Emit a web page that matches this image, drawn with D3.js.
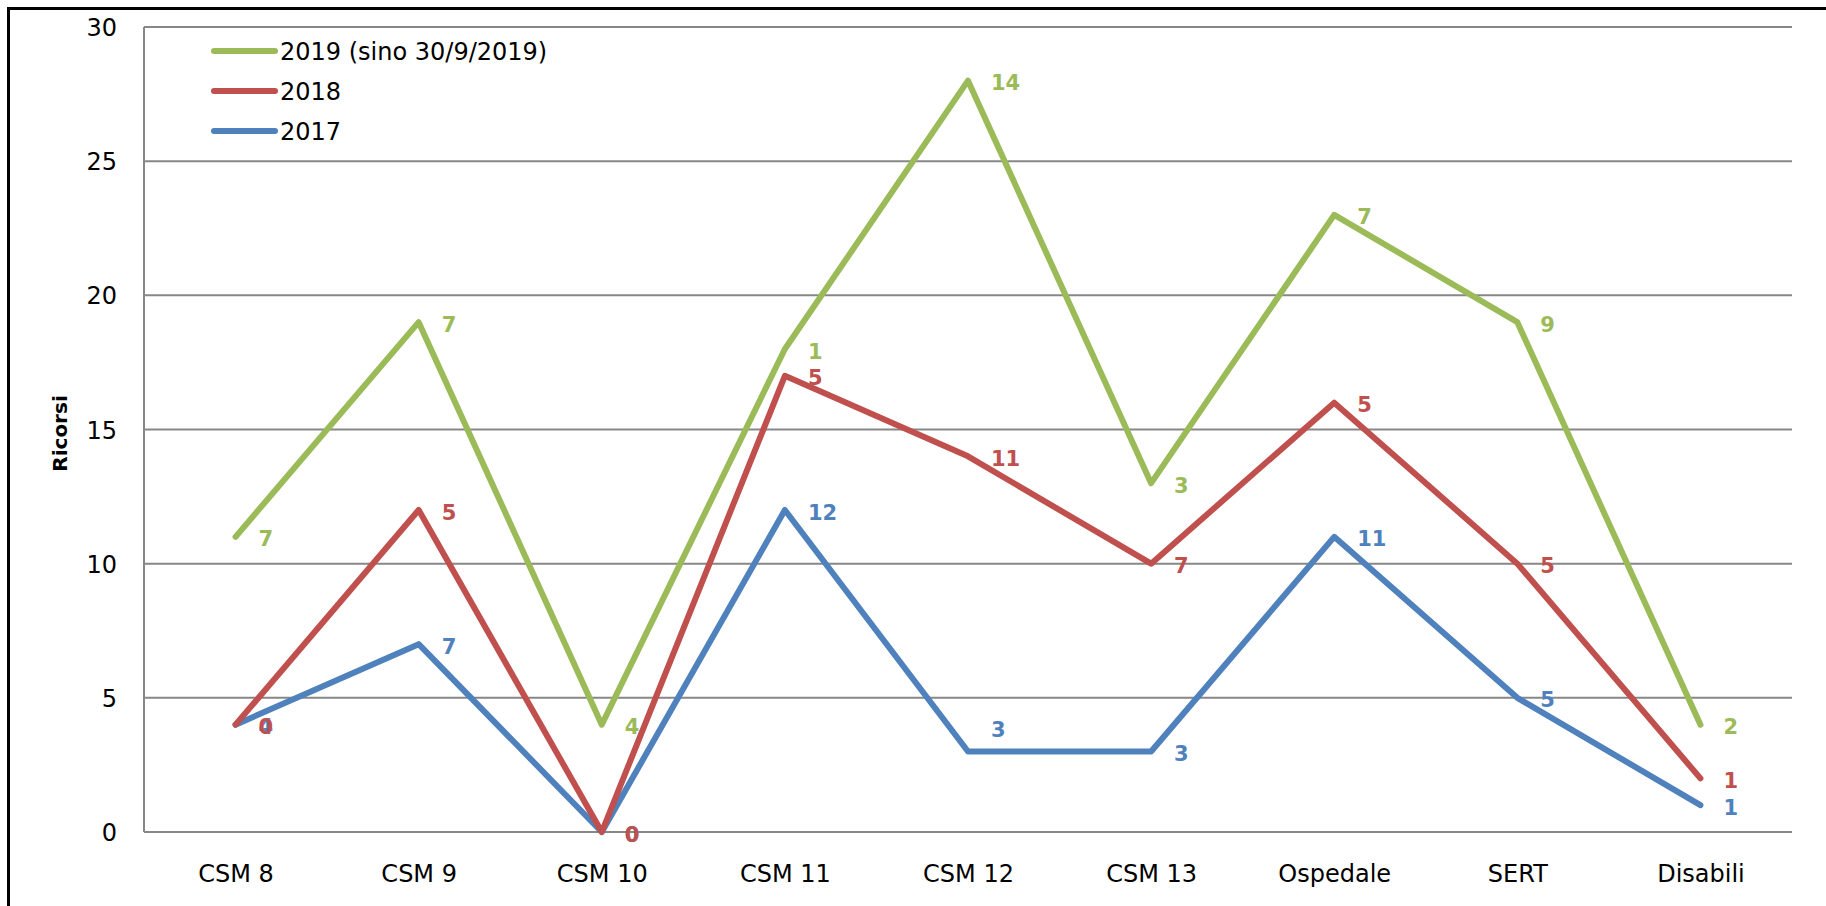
<!DOCTYPE html>
<html>
<head>
<meta charset="utf-8">
<script src="https://cdn.jsdelivr.net/npm/d3@7/dist/d3.min.js"></script>
<style>
  html, body { margin: 0; padding: 0; background: #fff; }
  svg { display: block; }
</style>
</head>
<body>
<svg id="chart" width="1826" height="906"></svg>
<script>
// ---- data ----
const categories = ["CSM 8", "CSM 9", "CSM 10", "CSM 11", "CSM 12", "CSM 13", "Ospedale", "SERT", "Disabili"];
const values2017 = [4, 7, 0, 12, 3, 3, 11, 5, 1];
const values2018 = [0, 5, 0, 5, 11, 7, 5, 5, 1];
const values2019 = [7, 7, 4, 1, 14, 3, 7, 9, 2];
const seriesNames = ["2019 (sino 30/9/2019)", "2018", "2017"];
const yTicks = [0, 5, 10, 15, 20, 25, 30];
const yLabel = "Ricorsi";

// ---- layout ----
const svg = d3.select("#chart");
const W = 1826, H = 906;
const plot = { left: 144, right: 1792, top: 27, bottom: 832 };
const font = "'DejaVu Sans', Verdana, sans-serif";
const colors = { "2019": "#9BBB59", "2018": "#C0504D", "2017": "#4F81BD" };

// stacked lines (cumulative)
const stack2017 = values2017.map(v => v);
const stack2018 = values2018.map((v, i) => v + stack2017[i]);
const stack2019 = values2019.map((v, i) => v + stack2018[i]);

const series = [
  { key: "2017", name: seriesNames[2], vals: values2017, cum: stack2017 },
  { key: "2018", name: seriesNames[1], vals: values2018, cum: stack2018 },
  { key: "2019", name: seriesNames[0], vals: values2019, cum: stack2019 }
];

const x = d3.scalePoint().domain(categories).range([plot.left, plot.right]).padding(0.5);
const y = d3.scaleLinear().domain([0, 30]).range([plot.bottom, plot.top]);

// outer frame
svg.append("rect")
  .attr("x", 8.5).attr("y", 8.5)
  .attr("width", W + 20).attr("height", H - 6)
  .attr("fill", "none").attr("stroke", "#000").attr("stroke-width", 3);

// gridlines
svg.append("g").selectAll("line").data(yTicks).join("line")
  .attr("x1", plot.left).attr("x2", plot.right)
  .attr("y1", d => y(d)).attr("y2", d => y(d))
  .attr("stroke", "#878787").attr("stroke-width", 2);

// y axis line
svg.append("line")
  .attr("x1", plot.left).attr("x2", plot.left)
  .attr("y1", plot.top).attr("y2", plot.bottom)
  .attr("stroke", "#878787").attr("stroke-width", 2);

// y axis tick labels
const yAxis = d3.axisLeft(y).tickValues(yTicks).tickSize(0).tickPadding(0);
const gy = svg.append("g").attr("transform", `translate(${plot.left - 27},0)`).call(yAxis);
gy.select(".domain").remove();
gy.selectAll("text").attr("font-family", font).attr("font-size", 24).attr("fill", "#000")
  .attr("dy", "0.36em");

// x axis labels
const xAxis = d3.axisBottom(x).tickSize(0).tickPadding(0);
const gx = svg.append("g").attr("transform", `translate(0,${plot.bottom + 32})`).call(xAxis);
gx.select(".domain").remove();
gx.selectAll("text").attr("font-family", font).attr("font-size", 24).attr("fill", "#000")
  .attr("dy", "0.36em").attr("y", 9);

// y axis title
svg.append("text")
  .attr("transform", `translate(67,${(plot.top + plot.bottom) / 2 + 4}) rotate(-90)`)
  .attr("text-anchor", "middle")
  .attr("font-family", font).attr("font-size", 20).attr("font-weight", "bold")
  .text(yLabel);

// lines
const line = d3.line().x((d, i) => x(categories[i])).y(d => y(d));
series.forEach(s => {
  svg.append("path")
    .datum(s.cum)
    .attr("d", line)
    .attr("fill", "none")
    .attr("stroke", colors[s.key])
    .attr("stroke-width", 6)
    .attr("stroke-linejoin", "round")
    .attr("stroke-linecap", "round");
});

// data labels (to the right of each point; lifted above a flat outgoing segment)
series.forEach(s => {
  svg.append("g").selectAll("text").data(s.vals).join("text")
    .attr("x", (d, i) => x(categories[i]) + 23)
    .attr("y", (d, i) => {
      const flat = i < s.cum.length - 1 && s.cum[i + 1] === s.cum[i];
      return y(s.cum[i]) + (flat ? -22 : 2);
    })
    .attr("dy", "0.36em")
    .attr("font-family", font).attr("font-size", 21).attr("font-weight", "bold")
    .attr("fill", colors[s.key])
    .text(d => d);
});

// legend
const legendRows = [
  { key: "2019", name: seriesNames[0] },
  { key: "2018", name: seriesNames[1] },
  { key: "2017", name: seriesNames[2] }
];
const lg = svg.append("g");
legendRows.forEach((r, i) => {
  const ly = 51 + i * 40;
  lg.append("line")
    .attr("x1", 214).attr("x2", 275).attr("y1", ly).attr("y2", ly)
    .attr("stroke", colors[r.key]).attr("stroke-width", 6).attr("stroke-linecap", "round");
  lg.append("text")
    .attr("x", 280).attr("y", ly).attr("dy", "0.36em")
    .attr("font-family", font).attr("font-size", 24).attr("fill", "#000")
    .text(r.name);
});
</script>
</body>
</html>
